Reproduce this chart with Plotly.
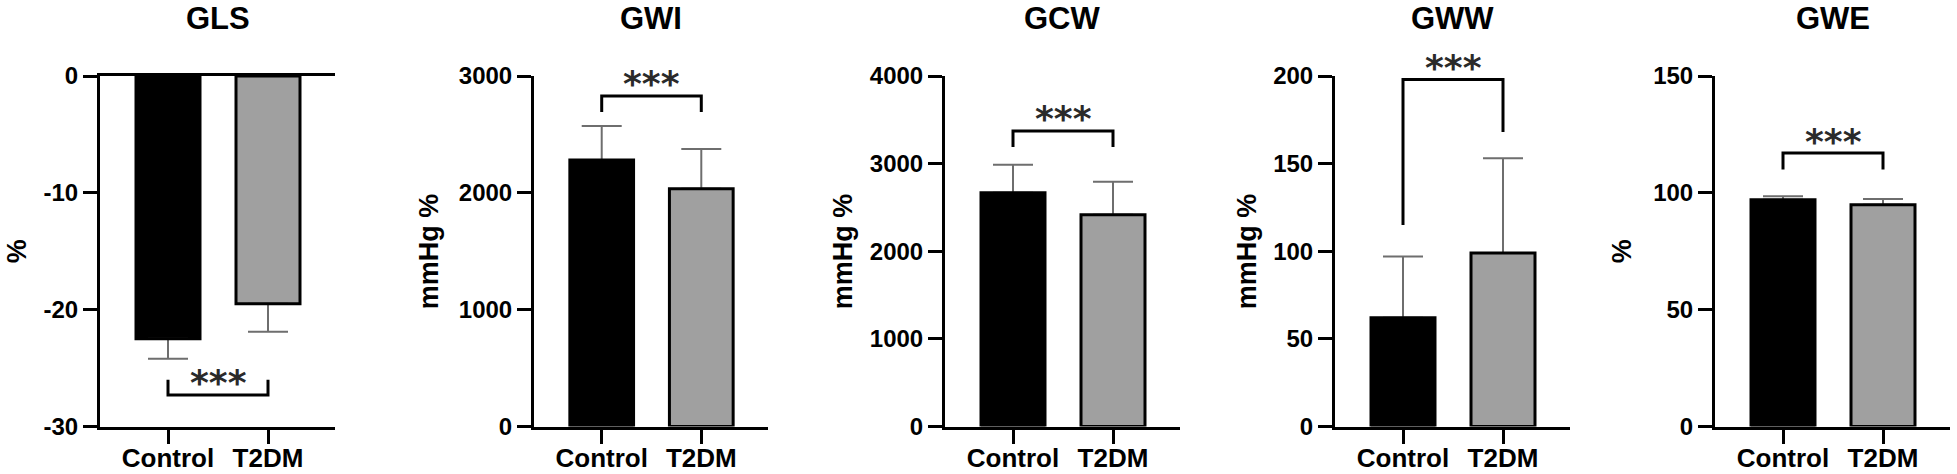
import plotly.graph_objects as go

# ---------------- data ----------------
panels = ["GLS", "GWI", "GCW", "GWW", "GWE"]
y_titles = ["%", "mmHg %", "mmHg %", "mmHg %", "%"]
groups = ["Control", "T2DM"]

control_mean = [-22.5, 2282, 2667, 62, 97.0]
control_sd = [1.7, 291, 319, 35, 1.5]
t2dm_mean = [-19.5, 2034, 2416, 99, 94.9]
t2dm_sd = [2.4, 342, 376, 54, 2.5]

y_ranges = [[-30, 0], [0, 3000], [0, 4000], [0, 200], [0, 150]]
y_tickvals = [
    [0, -10, -20, -30],
    [0, 1000, 2000, 3000],
    [0, 1000, 2000, 3000, 4000],
    [0, 50, 100, 150, 200],
    [0, 50, 100, 150],
]
y_ticktext = [
    ["0", "-10", "-20", "-30"],
    ["0", "1000", "2000", "3000"],
    ["0", "1000", "2000", "3000", "4000"],
    ["0", "50", "100", "150", "200"],
    ["0", "50", "100", "150"],
]

# significance brackets: left leg end, bar level, right leg end
bracket_left = [-26.0, 2692, 3191, 115, 110]
bracket_level = [-27.3, 2829, 3373, 198, 117]
bracket_right = [-26.0, 2692, 3191, 168, 110]
star_text = ["***", "***", "***", "***", "***"]

# ---------------- layout geometry (pixels) ----------------
W, H = 1957, 474
x_domains_px = [(100, 335), (534, 768), (945, 1180), (1335, 1570), (1715, 1950)]
y_title_x_px = [17, 429, 843, 1247, 1622]
plot_top_px, plot_bot_px = 76, 426.5

FONT = "Liberation Sans, Arial, sans-serif"
colors = ["#000000", "#a0a0a0"]

fig = go.Figure()
annotations = []

for i, name in enumerate(panels):
    ax = "" if i == 0 else str(i + 1)
    xref, yref = "x" + ax, "y" + ax
    means = [control_mean[i], t2dm_mean[i]]
    sds = [control_sd[i], t2dm_sd[i]]
    neg = means[0] < 0
    plus = [0 if neg else s for s in sds]
    minus = [s if neg else 0 for s in sds]

    # filled bars with error bars
    fig.add_trace(go.Bar(
        x=groups, y=means, width=0.64,
        marker=dict(color=colors, line=dict(width=0)),
        error_y=dict(type="data", symmetric=False, array=plus, arrayminus=minus,
                     color="#6e6e6e", thickness=2, width=20),
        xaxis=xref, yaxis=yref, showlegend=False, hoverinfo="skip",
    ))
    # bar outlines drawn over error bar bases
    fig.add_trace(go.Bar(
        x=groups, y=means, width=0.64,
        marker=dict(color="rgba(0,0,0,0)", line=dict(width=3, color="#000000")),
        xaxis=xref, yaxis=yref, showlegend=False, hoverinfo="skip",
    ))
    # significance bracket
    fig.add_trace(go.Scatter(
        x=[groups[0], groups[0], groups[1], groups[1]],
        y=[bracket_left[i], bracket_level[i], bracket_level[i], bracket_right[i]],
        mode="lines", line=dict(color="#000000", width=3),
        cliponaxis=False, xaxis=xref, yaxis=yref, showlegend=False, hoverinfo="skip",
    ))
    annotations.append(dict(
        x=0.5, y=bracket_level[i], xref=xref, yref=yref, text=star_text[i],
        showarrow=False, yshift=12, xanchor="center", yanchor="middle",
        font=dict(family="DejaVu Sans", size=36, color="#2a2a2a", weight="bold"),
    ))

    x0, x1 = x_domains_px[i]
    axis_common = dict(
        showline=True, linewidth=3, linecolor="#000000",
        ticks="outside", ticklen=14, tickwidth=3, tickcolor="#000000",
        showgrid=False, zeroline=False, automargin=False,
    )
    fig.update_layout(**{
        "xaxis" + ax: dict(
            domain=[x0 / W, x1 / W], anchor=yref, type="category",
            range=[-0.68, 1.67], mirror=neg, ticklabelstandoff=-8,
            tickfont=dict(family=FONT, size=26, color="#000000", weight="bold"),
            **axis_common,
        ),
        "yaxis" + ax: dict(
            domain=[1 - plot_bot_px / H, 1 - plot_top_px / H], anchor=xref,
            range=y_ranges[i], tickvals=y_tickvals[i], ticktext=y_ticktext[i],
            tickfont=dict(family=FONT, size=24, color="#000000", weight="bold"),
            **axis_common,
        ),
    })
    # panel title
    annotations.append(dict(
        x=(x0 + x1) / 2 / W, y=1 - 19 / H, xref="paper", yref="paper",
        text=name, showarrow=False, xanchor="center", yanchor="middle",
        font=dict(family=FONT, size=31, color="#000000", weight="bold"),
    ))
    # y-axis title
    annotations.append(dict(
        x=y_title_x_px[i] / W, y=1 - (plot_top_px + plot_bot_px) / 2 / H,
        xref="paper", yref="paper", text=y_titles[i], textangle=-90,
        showarrow=False, xanchor="center", yanchor="middle",
        font=dict(family=FONT, size=27, color="#000000", weight="bold"),
    ))

fig.update_layout(
    width=W, height=H, barmode="overlay",
    margin=dict(l=0, r=0, t=0, b=0, autoexpand=False),
    paper_bgcolor="#ffffff", plot_bgcolor="#ffffff",
    annotations=annotations, showlegend=False,
)

fig.write_html(
    "out.html",
    config={"displayModeBar": False},
    post_script="document.body.style.margin='0';document.body.style.overflow='hidden';",
)
